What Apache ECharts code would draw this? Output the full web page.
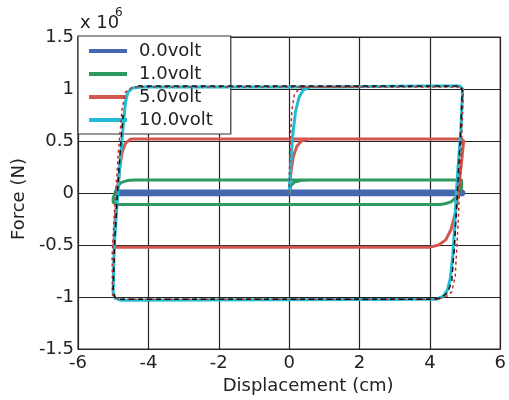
<!DOCTYPE html>
<html>
<head>
  <meta charset="utf-8">
  <title>Force vs Displacement</title>
  <script src="https://cdn.jsdelivr.net/npm/echarts@6/dist/echarts.min.js"></script>
  <style>
    html, body { margin: 0; padding: 0; background: #fff; }
    #chart { width: 509px; height: 400px; }
  </style>
</head>
<body>
  <div id="chart"></div>
  <script>
    // force values in units of 1e6 N, displacement in cm
    const names = ['0.0volt', '1.0volt', '5.0volt', '10.0volt'];
    const xTicks = [-6, -4, -2, 0, 2, 4, 6];
    const yTicks = [-1.5, -1, -0.5, 0, 0.5, 1, 1.5];

    const loop0v = [
      [-4.9, 0.015], [4.95, 0.015], [4.97, 0.0], [4.95, -0.012], [-4.9, -0.012], [-4.95, 0.0], [-4.9, 0.015]
    ];
    const loop1v = [
      [0, 0], [0.05, 0.07], [0.15, 0.105], [0.35, 0.122], [0.6, 0.125],
      [4.9, 0.125], [4.95, 0.11], [4.9, 0.05], [4.82, 0.0], [4.72, -0.05], [4.6, -0.085],
      [4.45, -0.1], [4.3, -0.11], [-4.9, -0.11], [-5.0, -0.09], [-5.0, -0.05],
      [-4.95, 0.0], [-4.88, 0.06], [-4.78, 0.1], [-4.6, 0.12], [-4.4, 0.125], [2, 0.125]
    ];
    const loop5v = [
      [0, 0], [0.05, 0.2], [0.12, 0.35], [0.22, 0.45], [0.35, 0.5], [0.55, 0.52],
      [4.9, 0.52], [4.96, 0.5], [4.9, 0.3], [4.82, 0.05], [4.72, -0.2], [4.6, -0.35],
      [4.45, -0.45], [4.25, -0.5], [4.0, -0.52], [-4.95, -0.52], [-4.98, -0.5],
      [-4.93, -0.2], [-4.87, 0.05], [-4.8, 0.28], [-4.74, 0.4], [-4.65, 0.48], [-4.5, 0.52], [2, 0.52]
    ];
    const loop10v = [
      [0, 0], [0.05, 0.3], [0.1, 0.55], [0.18, 0.78], [0.28, 0.92], [0.4, 0.99], [0.6, 1.02],
      [4.0, 1.03], [4.85, 1.03], [4.93, 1.0], [4.88, 0.6], [4.8, 0.25], [4.75, 0.0],
      [4.7, -0.35], [4.65, -0.6], [4.58, -0.82], [4.5, -0.93], [4.38, -0.99], [4.2, -1.02],
      [-4.8, -1.03], [-4.95, -1.01], [-5.0, -0.95], [-4.97, -0.5], [-4.87, 0.0], [-4.78, 0.4],
      [-4.7, 0.7], [-4.65, 0.88], [-4.58, 0.97], [-4.45, 1.01], [-4.2, 1.02], [2, 1.02]
    ];
    // reference traces drawn over the 10 volt loop
    const refRed = [
      [0, 0], [0.03, 0.5], [0.08, 0.8], [0.15, 0.95], [0.3, 1.01], [0.6, 1.02],
      [4.88, 1.02], [4.95, 0.98], [4.88, 0.3], [4.8, -0.3], [4.72, -0.8], [4.62, -0.95],
      [4.45, -1.0], [4.2, -1.02], [-4.85, -1.02], [-5.02, -0.98], [-5.03, -0.6],
      [-4.95, -0.1], [-4.85, 0.4], [-4.75, 0.8], [-4.65, 0.97], [-4.45, 1.02], [2, 1.02]
    ];
    const refBlack = [
      [-4.3, 1.03], [4.85, 1.03], [4.92, 0.99], [4.86, 0.5], [4.78, 0.0], [4.7, -0.5],
      [4.62, -0.85], [4.5, -0.96], [4.3, -1.01], [4.1, -1.02], [-4.8, -1.02],
      [-4.96, -1.0], [-5.0, -0.92], [-4.96, -0.5], [-4.88, 0.0], [-4.8, 0.4], [-4.72, 0.75]
    ];

    const colors = ['#4468b0', '#2a9a5e', '#d25750', '#20bcd4'];
    const loops = [loop0v, loop1v, loop5v, loop10v];

    let series = [];
    for (let i in loops) {
      series.push({
        name: names[i],
        type: 'line',
        data: loops[i],
        showSymbol: false,
        smooth: false,
        lineStyle: { color: colors[i], width: i == 0 ? 4 : 3 },
        itemStyle: { color: colors[i] },
        z: 2 + Number(i)
      });
    }
    series.push({
      name: 'refRed', type: 'line', data: refRed, showSymbol: false,
      lineStyle: { color: '#c82828', width: 1.5, type: [3, 3] }, z: 6
    });
    series.push({
      name: 'refBlack', type: 'line', data: refBlack, showSymbol: false,
      lineStyle: { color: '#111', width: 1.5, type: [5, 4] }, z: 7
    });

    const font = 'DejaVu Sans, sans-serif';
    let chart = echarts.init(document.getElementById('chart'));
    chart.setOption({
      animation: false,
      grid: {
        left: 78, top: 37, right: 6, bottom: 45,
        show: true, borderColor: '#333', borderWidth: 1.2
      },
      legend: {
        data: names,
        orient: 'vertical',
        left: 78, top: 36,
        padding: [6, 18, 5, 11],
        itemGap: 5,
        itemWidth: 38, itemHeight: 4,
        icon: 'rect',
        backgroundColor: '#fff',
        borderColor: '#333', borderWidth: 1.2,
        textStyle: { fontFamily: font, fontSize: 18, color: '#222', lineHeight: 18, padding: [0, 0, 0, 7] }
      },
      xAxis: {
        type: 'value', min: xTicks[0], max: xTicks[xTicks.length - 1], interval: 2,
        name: 'Displacement (cm)', nameLocation: 'middle', nameGap: 23,
        nameTextStyle: { fontFamily: font, fontSize: 18, color: '#222', padding: [0, 0, 0, 38] },
        axisLine: { show: false }, axisTick: { show: false },
        axisLabel: { fontFamily: font, fontSize: 18, color: '#222', margin: 5 },
        splitLine: { show: true, lineStyle: { color: '#222', width: 1.2 } }
      },
      yAxis: {
        type: 'value', min: yTicks[0], max: yTicks[yTicks.length - 1], interval: 0.5,
        name: 'Force (N)', nameLocation: 'middle', nameGap: 50,
        nameTextStyle: { fontFamily: font, fontSize: 18, color: '#222', padding: [0, 12, 0, 0] },
        axisLine: { show: false }, axisTick: { show: false },
        axisLabel: { fontFamily: font, fontSize: 18, color: '#222', margin: 4 },
        splitLine: { show: true, lineStyle: { color: '#222', width: 1.2 } }
      },
      graphic: [
        { type: 'text', left: 80, top: 14, style: { text: 'x 10', font: '18px ' + font, fill: '#222' } },
        { type: 'text', left: 115, top: 7, style: { text: '6', font: '12px ' + font, fill: '#222' } }
      ],
      series: series
    });
  </script>
</body>
</html>
